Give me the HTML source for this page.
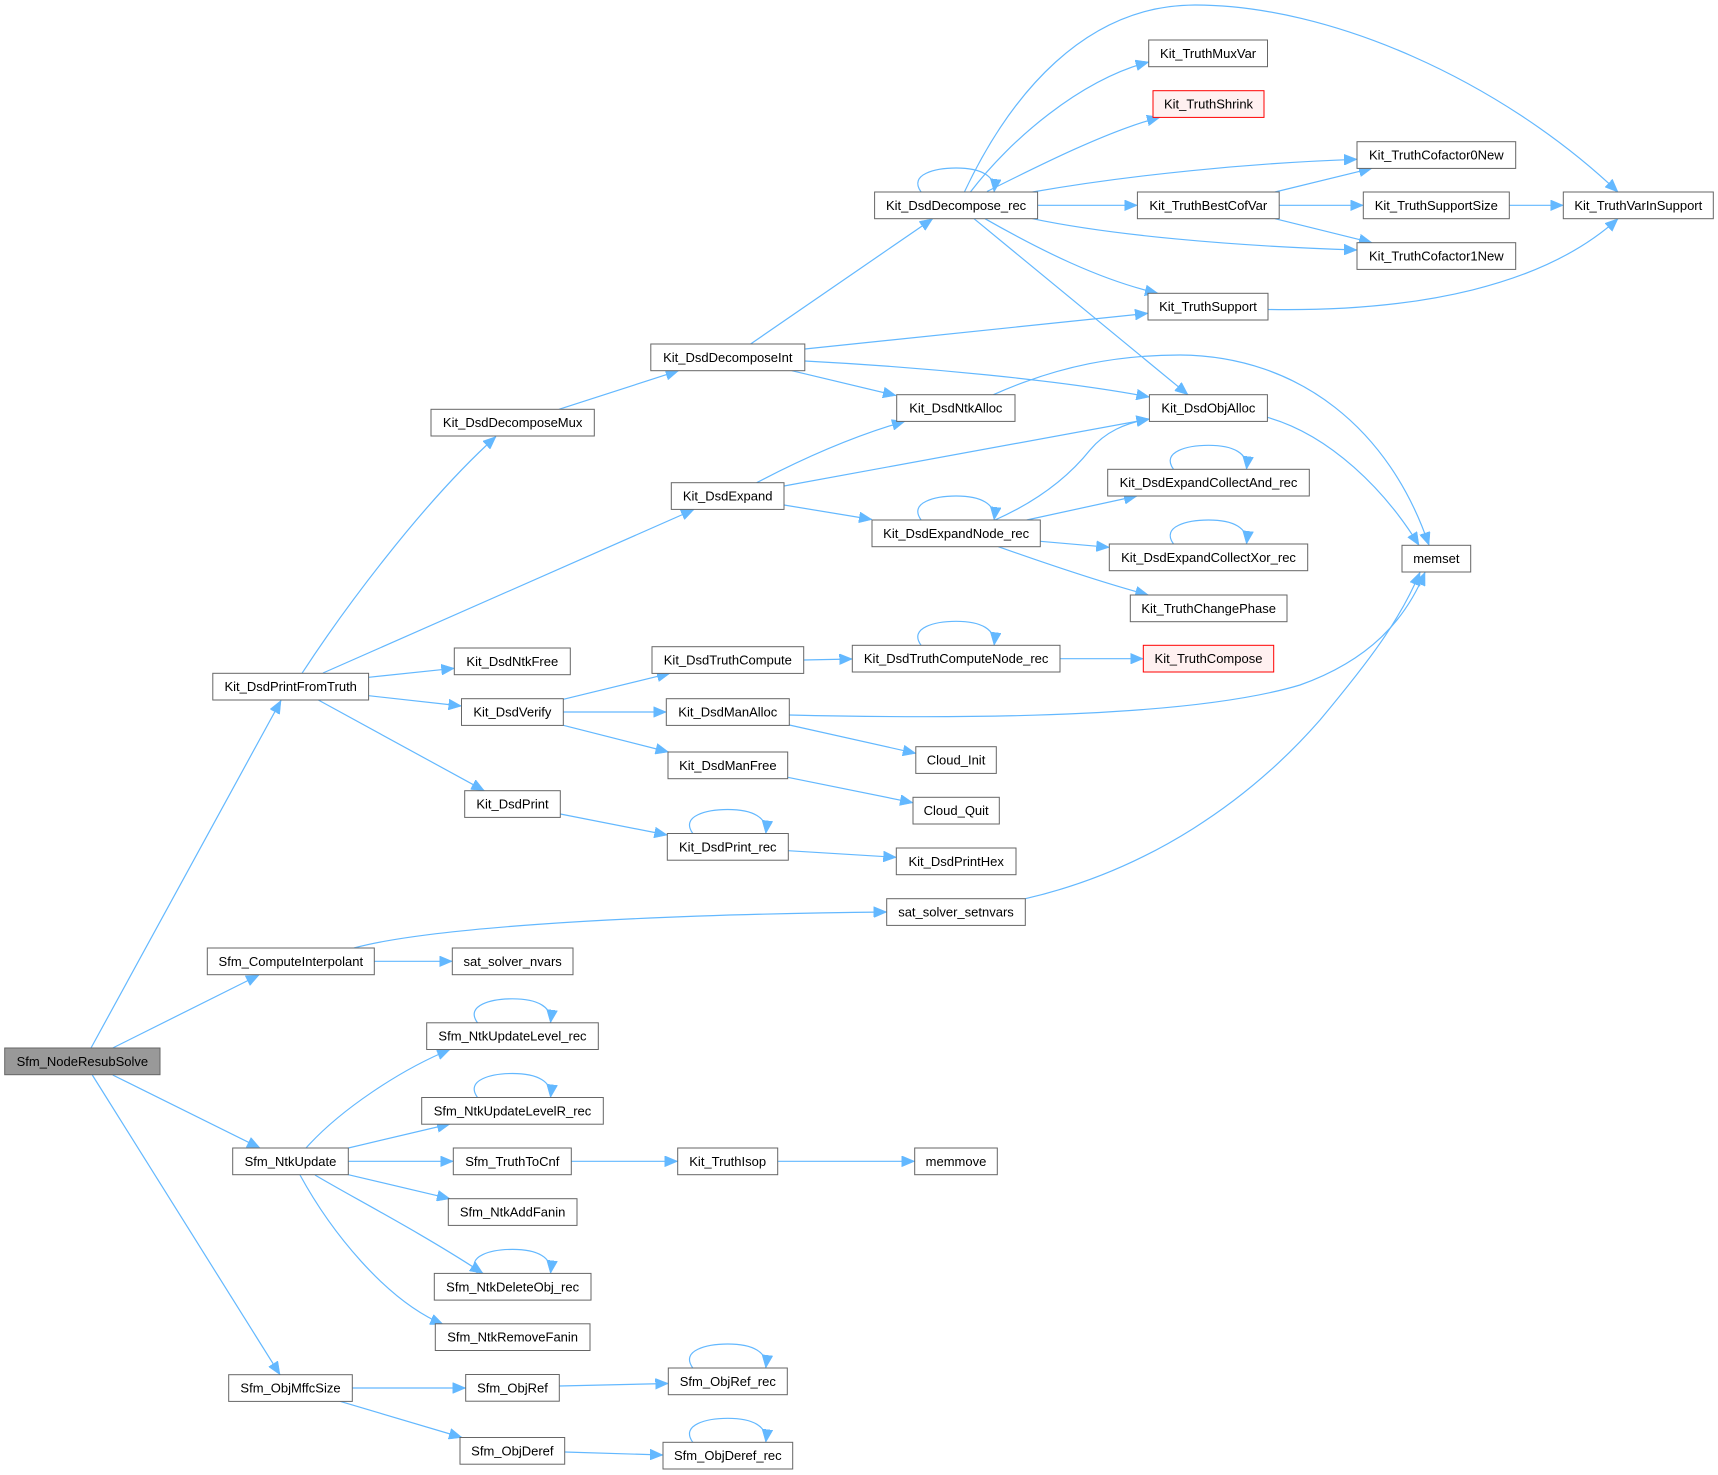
<!DOCTYPE html>
<html><head><meta charset="utf-8"><style>
html,body{margin:0;padding:0;background:#fff;}
svg{display:block;}
text{font-family:"Liberation Sans",Arial,sans-serif;font-size:13px;fill:#000;text-anchor:middle;}
.n{fill:#fff;stroke:#666;stroke-width:1;}
.r{fill:#fff0f0;stroke:#ff0000;stroke-width:1;}
.g{fill:#999;stroke:#666;stroke-width:1;}
.e{fill:none;stroke:#63b8ff;stroke-width:1.2;marker-end:url(#a);}
</style></head><body>
<svg width="1718" height="1475" viewBox="0 0 1718 1475" xmlns="http://www.w3.org/2000/svg">
<defs>
<marker id="a" markerUnits="userSpaceOnUse" viewBox="0 0 13 11" refX="13" refY="5.5" markerWidth="13" markerHeight="11" orient="auto">
<path d="M0,0 L13,5.5 L0,11 z" fill="#63b8ff" stroke="#63b8ff" stroke-width="0.5"/>
</marker>
</defs>
<g>
<path class="e" d="M91,1048 L281,700.5"/>
<path class="e" d="M112.7,1048 L259,975"/>
<path class="e" d="M112.7,1075 L260,1148"/>
<path class="e" d="M92.3,1075 L280,1374.7"/>
<path class="e" d="M302,673.3 C340,615 420,505 496,436.5"/>
<path class="e" d="M323,673 L694,509.5"/>
<path class="e" d="M368.7,677.3 L454.3,668.3"/>
<path class="e" d="M368.7,695.7 L461.5,706"/>
<path class="e" d="M318.3,700 L484.3,790.7"/>
<path class="e" d="M559,409.3 L678.6,370.7"/>
<path class="e" d="M750.6,344 L932.7,218.7"/>
<path class="e" d="M804.8,349 L1148,313.3"/>
<path class="e" d="M804.8,361 C920,367 1060,380 1149.4,397"/>
<path class="e" d="M791.8,370.7 L896,395.5"/>
<path class="e" d="M921.1,192 C908.1,174 936.1,168 956.1,168 C981.1,168 996.1,176 994.1,192"/>
<path class="e" d="M964.4,192 C1010,95 1085,5 1195,5 C1330,5 1500,80 1618,192"/>
<path class="e" d="M970.4,192 C1010,140 1080,80 1148.7,62"/>
<path class="e" d="M987,191.5 C1040,165 1110,130 1160,117.3"/>
<path class="e" d="M1032.5,192 C1130,175 1250,163 1357,159.3"/>
<path class="e" d="M1037.7,205.3 L1137.4,205.3"/>
<path class="e" d="M1032.5,218.7 C1110,235 1230,246 1357,250"/>
<path class="e" d="M985,218.7 C1040,250 1100,280 1158,293.3"/>
<path class="e" d="M974,218.7 L1188,394.7"/>
<path class="e" d="M1275,192 L1372,168.3"/>
<path class="e" d="M1279.2,205.3 L1363.3,205.3"/>
<path class="e" d="M1275,218.7 L1372,242.7"/>
<path class="e" d="M1509.3,205.3 L1563.3,205.3"/>
<path class="e" d="M1268,309.5 C1420,312 1545,285 1618,218.7"/>
<path class="e" d="M993.4,394.7 C1060,365 1120,355 1180,355 C1300,356 1390,430 1429,545.3"/>
<path class="e" d="M1267.3,417.3 C1330,435 1385,490 1419,545.3"/>
<path class="e" d="M756.7,482.7 C800,460 850,437 905,421.3"/>
<path class="e" d="M784,486 L1149.4,419"/>
<path class="e" d="M784,505 L872,519.5"/>
<path class="e" d="M995,520 C1040,500 1070,475 1090,450 C1105,432 1125,423 1149.4,419"/>
<path class="e" d="M921.1,520 C908.1,502 936.1,496 956.1,496 C981.1,496 996.1,504 994.1,520"/>
<path class="e" d="M1026.7,520 L1137,496"/>
<path class="e" d="M1040.3,541.3 L1109.3,547.3"/>
<path class="e" d="M998.3,546.7 C1050,565 1100,582 1148.3,595"/>
<path class="e" d="M1173.5,469.3 C1160.5,451.3 1188.5,445.3 1208.5,445.3 C1233.5,445.3 1248.5,453.3 1246.5,469.3"/>
<path class="e" d="M1173.5,544 C1160.5,526 1188.5,520 1208.5,520 C1233.5,520 1248.5,528 1246.5,544"/>
<path class="e" d="M563.3,699.3 L670,673.3"/>
<path class="e" d="M563.3,712 L666.3,712"/>
<path class="e" d="M563.3,725.3 L668.5,752"/>
<path class="e" d="M803.7,660 L852.3,659"/>
<path class="e" d="M921.1,645.3 C908.1,627.3 936.1,621.3 956.1,621.3 C981.1,621.3 996.1,629.3 994.1,645.3"/>
<path class="e" d="M1060,658.7 L1143.3,658.7"/>
<path class="e" d="M789.3,715 C1000,720 1200,715 1300,685 C1370,660 1405,620 1425,572.3"/>
<path class="e" d="M789.3,725 L915.8,753.3"/>
<path class="e" d="M787.7,777.3 L913,802.7"/>
<path class="e" d="M560.3,814 L667.3,835"/>
<path class="e" d="M692.8,833.5 C679.8,815.5 707.8,809.5 727.8,809.5 C752.8,809.5 767.8,817.5 765.8,833.5"/>
<path class="e" d="M788,850.7 L896.3,857.3"/>
<path class="e" d="M354,948 C420,930 600,915 886.7,912"/>
<path class="e" d="M1025.3,898.7 C1150,870 1250,800 1320,720 C1370,660 1400,620 1420,572.3"/>
<path class="e" d="M374.3,961.3 L452.3,961.3"/>
<path class="e" d="M306,1148 C340,1110 400,1070 450,1049.5"/>
<path class="e" d="M348.3,1148 L450,1124"/>
<path class="e" d="M348.3,1161.3 L453.3,1161.3"/>
<path class="e" d="M348.3,1174.7 L450,1198.7"/>
<path class="e" d="M315,1175 C350,1196 420,1232 483,1273.4"/>
<path class="e" d="M300,1175 C330,1230 385,1300 443.3,1324.5"/>
<path class="e" d="M477.5,1022.8 C464.5,1004.8 492.5,998.8 512.5,998.8 C537.5,998.8 552.5,1006.8 550.5,1022.8"/>
<path class="e" d="M477.5,1097.5 C464.5,1079.5 492.5,1073.5 512.5,1073.5 C537.5,1073.5 552.5,1081.5 550.5,1097.5"/>
<path class="e" d="M477.5,1273.4 C464.5,1255.4 492.5,1249.4 512.5,1249.4 C537.5,1249.4 552.5,1257.4 550.5,1273.4"/>
<path class="e" d="M571.3,1161.3 L677.7,1161.3"/>
<path class="e" d="M777.7,1161.3 L914.7,1161.3"/>
<path class="e" d="M352.3,1388 L465.7,1388"/>
<path class="e" d="M340,1401.3 L462,1437.5"/>
<path class="e" d="M559.3,1386 L668.3,1383.5"/>
<path class="e" d="M692.8,1368 C679.8,1350 707.8,1344 727.8,1344 C752.8,1344 767.8,1352 765.8,1368"/>
<path class="e" d="M564.7,1452 L663,1455"/>
<path class="e" d="M692.8,1442.3 C679.8,1424.3 707.8,1418.3 727.8,1418.3 C752.8,1418.3 767.8,1426.3 765.8,1442.3"/>
</g>
<g>
<rect class="n" x="1148.7" y="40" width="118.8" height="26.7"/><text x="1208.1" y="57.9">Kit_TruthMuxVar</text>
<rect class="r" x="1153" y="90.7" width="111" height="26.7"/><text x="1208.5" y="108.6">Kit_TruthShrink</text>
<rect class="n" x="1357" y="141.7" width="158.7" height="26.7"/><text x="1436.35" y="159.6">Kit_TruthCofactor0New</text>
<rect class="n" x="874.6" y="192" width="163" height="26.7"/><text x="956.1" y="209.9">Kit_DsdDecompose_rec</text>
<rect class="n" x="1137.4" y="192" width="141.8" height="26.7"/><text x="1208.3" y="209.9">Kit_TruthBestCofVar</text>
<rect class="n" x="1363.3" y="192" width="146" height="26.7"/><text x="1436.3" y="209.9">Kit_TruthSupportSize</text>
<rect class="n" x="1563.3" y="192" width="150" height="26.7"/><text x="1638.3" y="209.9">Kit_TruthVarInSupport</text>
<rect class="n" x="1357" y="242.7" width="158.7" height="26.7"/><text x="1436.35" y="260.6">Kit_TruthCofactor1New</text>
<rect class="n" x="1148" y="293.3" width="120" height="26.7"/><text x="1208" y="311.2">Kit_TruthSupport</text>
<rect class="n" x="650.8" y="344" width="154" height="26.7"/><text x="727.8" y="361.9">Kit_DsdDecomposeInt</text>
<rect class="n" x="896.7" y="394.7" width="118.3" height="26.7"/><text x="955.85" y="412.6">Kit_DsdNtkAlloc</text>
<rect class="n" x="1149.4" y="394.7" width="118" height="26.7"/><text x="1208.4" y="412.6">Kit_DsdObjAlloc</text>
<rect class="n" x="431" y="409.3" width="163.3" height="26.7"/><text x="512.65" y="427.2">Kit_DsdDecomposeMux</text>
<rect class="n" x="1107.7" y="469.3" width="201.6" height="26.7"/><text x="1208.5" y="487.2">Kit_DsdExpandCollectAnd_rec</text>
<rect class="n" x="671.3" y="482.7" width="112.7" height="26.7"/><text x="727.65" y="500.6">Kit_DsdExpand</text>
<rect class="n" x="872" y="520" width="168.3" height="26.7"/><text x="956.15" y="537.9">Kit_DsdExpandNode_rec</text>
<rect class="n" x="1109.3" y="544" width="198.4" height="26.7"/><text x="1208.5" y="561.9">Kit_DsdExpandCollectXor_rec</text>
<rect class="n" x="1402" y="545.3" width="68.7" height="26.7"/><text x="1436.35" y="563.2">memset</text>
<rect class="n" x="1130.3" y="595" width="156.7" height="26.7"/><text x="1208.65" y="612.9">Kit_TruthChangePhase</text>
<rect class="n" x="652" y="646.7" width="151.7" height="26.7"/><text x="727.85" y="664.6">Kit_DsdTruthCompute</text>
<rect class="n" x="852.3" y="645.3" width="207.7" height="26.7"/><text x="956.15" y="663.2">Kit_DsdTruthComputeNode_rec</text>
<rect class="r" x="1143.3" y="645.3" width="130.4" height="26.7"/><text x="1208.5" y="663.2">Kit_TruthCompose</text>
<rect class="n" x="454.3" y="648" width="116" height="26.7"/><text x="512.3" y="665.9">Kit_DsdNtkFree</text>
<rect class="n" x="212.8" y="673.3" width="155.8" height="26.7"/><text x="290.7" y="691.2">Kit_DsdPrintFromTruth</text>
<rect class="n" x="461.5" y="698.7" width="101.8" height="26.7"/><text x="512.4" y="716.6">Kit_DsdVerify</text>
<rect class="n" x="666.3" y="698.7" width="123" height="26.7"/><text x="727.8" y="716.6">Kit_DsdManAlloc</text>
<rect class="n" x="915.8" y="746.7" width="80.5" height="26.7"/><text x="956.05" y="764.6">Cloud_Init</text>
<rect class="n" x="668" y="752" width="119.7" height="26.7"/><text x="727.85" y="769.9">Kit_DsdManFree</text>
<rect class="n" x="464.7" y="790.7" width="95.6" height="26.7"/><text x="512.5" y="808.6">Kit_DsdPrint</text>
<rect class="n" x="913" y="797.3" width="86.3" height="26.7"/><text x="956.15" y="815.2">Cloud_Quit</text>
<rect class="n" x="667.3" y="833.5" width="121" height="26.7"/><text x="727.8" y="851.4">Kit_DsdPrint_rec</text>
<rect class="n" x="896.3" y="848" width="119.7" height="26.7"/><text x="956.15" y="865.9">Kit_DsdPrintHex</text>
<rect class="n" x="886.7" y="898.7" width="138.6" height="26.7"/><text x="956" y="916.6">sat_solver_setnvars</text>
<rect class="n" x="207.3" y="948" width="167" height="26.7"/><text x="290.8" y="965.9">Sfm_ComputeInterpolant</text>
<rect class="n" x="452.3" y="948" width="120.7" height="26.7"/><text x="512.65" y="965.9">sat_solver_nvars</text>
<rect class="n" x="426.7" y="1022.8" width="171.6" height="26.7"/><text x="512.5" y="1040.7">Sfm_NtkUpdateLevel_rec</text>
<rect class="g" x="4.7" y="1048" width="155.3" height="26.7"/><text x="82.35" y="1065.9">Sfm_NodeResubSolve</text>
<rect class="n" x="421.7" y="1097.5" width="181.6" height="26.7"/><text x="512.5" y="1115.4">Sfm_NtkUpdateLevelR_rec</text>
<rect class="n" x="232.7" y="1148" width="115.6" height="26.7"/><text x="290.5" y="1165.9">Sfm_NtkUpdate</text>
<rect class="n" x="453.3" y="1148" width="118" height="26.7"/><text x="512.3" y="1165.9">Sfm_TruthToCnf</text>
<rect class="n" x="677.7" y="1148" width="100" height="26.7"/><text x="727.7" y="1165.9">Kit_TruthIsop</text>
<rect class="n" x="914.7" y="1148" width="82.6" height="26.7"/><text x="956" y="1165.9">memmove</text>
<rect class="n" x="448.3" y="1198.7" width="128.7" height="26.7"/><text x="512.65" y="1216.6">Sfm_NtkAddFanin</text>
<rect class="n" x="434.3" y="1273.4" width="156.7" height="26.7"/><text x="512.65" y="1291.3">Sfm_NtkDeleteObj_rec</text>
<rect class="n" x="435.3" y="1323.8" width="154.7" height="26.7"/><text x="512.65" y="1341.7">Sfm_NtkRemoveFanin</text>
<rect class="n" x="228.7" y="1374.7" width="123.6" height="26.7"/><text x="290.5" y="1392.6">Sfm_ObjMffcSize</text>
<rect class="n" x="465.7" y="1374.5" width="93.6" height="26.7"/><text x="512.5" y="1392.4">Sfm_ObjRef</text>
<rect class="n" x="668.3" y="1368" width="119" height="26.7"/><text x="727.8" y="1385.9">Sfm_ObjRef_rec</text>
<rect class="n" x="460" y="1437.5" width="104.7" height="26.7"/><text x="512.35" y="1455.4">Sfm_ObjDeref</text>
<rect class="n" x="663" y="1442.3" width="129.7" height="26.7"/><text x="727.85" y="1460.2">Sfm_ObjDeref_rec</text>
</g>
</svg>
</body></html>
